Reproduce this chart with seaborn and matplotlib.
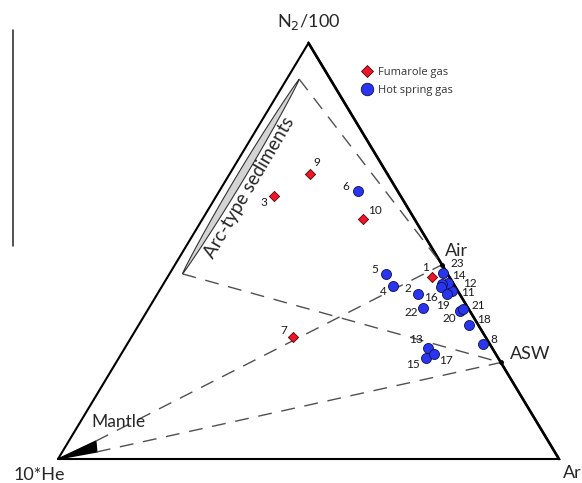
import numpy as np
import pandas as pd
import seaborn as sns
import matplotlib.pyplot as plt
from matplotlib.lines import Line2D

# compositions in % of (10*He, N2/100, Ar)
fum_id = [1, 3, 7, 9, 10]
fum_he = [3.5, 25.3, 38.4, 15.4, 10.3]
fum_n2 = [43.8, 63.2, 29.3, 68.5, 57.7]
fum_ar = [52.7, 11.5, 32.3, 16.1, 32.0]

hot_id = [2, 4, 5, 6, 8, 11, 12, 13, 14, 15, 16, 17, 18, 19, 20, 21, 22, 23]
hot_he = [8.3, 12.3, 12.3, 7.9, 1.4, 1.2, 1.0, 12.8, 2.3, 14.4, 2.9, 12.4, 1.9, 2.5, 2.0, 1.1, 9.0, 0.8]
hot_n2 = [39.7, 41.6, 44.5, 64.4, 27.6, 40.4, 42.3, 26.7, 42.1, 24.3, 41.3, 25.2, 32.2, 39.7, 35.6, 36.1, 36.3, 44.7]
hot_ar = [52.0, 46.1, 43.2, 27.7, 71.0, 58.4, 56.7, 60.5, 55.6, 61.3, 55.8, 62.4, 65.9, 57.8, 62.4, 62.8, 54.7, 54.5]

# end members (He, N2, Ar)
air = (0.0, 46.7, 53.3)
asw = (0.0, 23.2, 76.8)
sed_low = (52.9, 44.5, 2.6)
sed_top = (6.2, 91.3, 2.5)
mantle_a = (90.3, 4.3, 5.4)
mantle_b = (91.4, 1.7, 6.9)

# label offsets in pixels
lab_off = {1: (-6, 9), 3: (-10, -6), 7: (-9, 7), 9: (7, 12), 10: (12, 8),
           2: (-10, 5), 4: (-10, -6), 5: (-11, 4), 6: (-12, 5), 8: (11, 5),
           11: (16, -2), 12: (22, 0), 13: (-12, 8), 14: (17, 8), 15: (-13, -7),
           16: (-10, -10), 17: (12, -6), 18: (15, 6), 19: (-4, -12), 20: (-10, -8),
           21: (15, 3), 22: (-12, -5), 23: (14, 10)}


def tern(he, n2, ar):
    he, n2, ar = np.asarray(he, float), np.asarray(n2, float), np.asarray(ar, float)
    tot = he + n2 + ar
    return ar / tot + 0.5 * n2 / tot, n2 / tot


fx, fy = tern(fum_he, fum_n2, fum_ar)
hx, hy = tern(hot_he, hot_n2, hot_ar)
df = pd.concat([
    pd.DataFrame({'id': fum_id, 'x': fx, 'y': fy, 'kind': 'Fumarole gas'}),
    pd.DataFrame({'id': hot_id, 'x': hx, 'y': hy, 'kind': 'Hot spring gas'}),
])

sns.set_style('white')
plt.rcParams['font.family'] = ['Lato', 'DejaVu Sans']

fig = plt.figure(figsize=(5.82, 4.83), dpi=100)
ax = fig.add_axes([0, 0, 1, 1])
ax.set_xlim(-58 / 501, 524 / 501)
ax.set_ylim(-24 / 416, 459 / 416)
ax.axis('off')

red = '#f01428'
blue = '#2a35f0'

# triangle
ax.plot([0, 1, 0.5, 0], [0, 0, 1, 0], color='black', lw=1.5, solid_joinstyle='miter')
ax.plot([0.5, 1], [1, 0], color='black', lw=1.9)

# mixing lines
dash = dict(color='#505050', lw=1.0, dashes=(10, 7))
for a, b in [(sed_top, air), (sed_low, asw), (mantle_a, air), (mantle_b, asw)]:
    lx, ly = tern([a[0], b[0]], [a[1], b[1]], [a[2], b[2]])
    ax.plot(lx, ly, **dash)

# sediment lens
t = np.linspace(0, 1, 80)
w = 0.9 * np.sin(np.pi * t) ** 0.7
he_line = sed_low[0] + (sed_top[0] - sed_low[0]) * t
n2_line = sed_low[1] + (sed_top[1] - sed_low[1]) * t
ar_line = sed_low[2] + (sed_top[2] - sed_low[2]) * t
ax1, ay1 = tern(he_line + w, n2_line, ar_line - w)
ax2, ay2 = tern(he_line - w, n2_line, ar_line + w)
ax.fill(np.r_[ax1, ax2[::-1]], np.r_[ay1, ay2[::-1]], facecolor='#d4d4d4',
        edgecolor='#333333', lw=0.8)

# mantle wedge
mx, my = tern([100, mantle_a[0], mantle_b[0]], [0, mantle_a[1], mantle_b[1]],
              [0, mantle_a[2], mantle_b[2]])
ax.fill(mx, my, color='black')

# air / asw points
ex, ey = tern([air[0], asw[0]], [air[1], asw[1]], [air[2], asw[2]])
ax.plot(ex, ey, 'o', color='black', ms=2.5)

sns.scatterplot(data=df[df.kind == 'Hot spring gas'], x='x', y='y', marker='o', s=52,
                color=blue, edgecolor='#10104a', linewidth=0.6, ax=ax, legend=False, zorder=4)
sns.scatterplot(data=df[df.kind == 'Fumarole gas'], x='x', y='y', marker='D', s=27,
                color=red, edgecolor='#4a0a0a', linewidth=0.6, ax=ax, legend=False, zorder=5)

for _, r in df.iterrows():
    dx, dy = lab_off[r['id']]
    ax.annotate(str(r['id']), (r['x'], r['y']), xytext=(dx, dy), textcoords='offset pixels',
                ha='center', va='center', fontsize=8.5, color='#1a1a1a')

# vertex / end-member labels
ax.annotate('N$_2$/100', (0.5, 1), xytext=(0, 21), textcoords='offset pixels',
            ha='center', va='center', fontsize=13)
ax.annotate('10*He', (0, 0), xytext=(-19, -16), textcoords='offset pixels',
            ha='center', va='center', fontsize=13)
ax.annotate('Ar', (1, 0), xytext=(13, -14), textcoords='offset pixels',
            ha='center', va='center', fontsize=13)
ax.annotate('Air', (ex[0], ey[0]), xytext=(14, 14), textcoords='offset pixels',
            ha='center', va='center', fontsize=13)
ax.annotate('ASW', (ex[1], ey[1]), xytext=(29, 8), textcoords='offset pixels',
            ha='center', va='center', fontsize=13)
ax.annotate('Mantle', (0, 0), xytext=(60, 37), textcoords='offset pixels',
            ha='center', va='center', fontsize=12.5)
sx, sy = tern([32.5], [65.5], [2.6])
ax.annotate('Arc-type sediments', (sx[0], sy[0]), xytext=(15, 1), textcoords='offset pixels',
            ha='center', va='center', fontsize=13.5, rotation=59.5, rotation_mode='anchor')

# stray frame line at the left
ax.plot([13.3 / 582, 13.3 / 582], [1 - 246 / 483, 1 - 30 / 483], color='#222222', lw=1.1,
        transform=ax.transAxes)

handles = [
    Line2D([], [], ls='none', marker='D', ms=6.5, mfc=red, mec='#4a0a0a', mew=0.6,
           label='Fumarole gas'),
    Line2D([], [], ls='none', marker='o', ms=9, mfc=blue, mec='#10104a', mew=0.6,
           label='Hot spring gas'),
]
leg = ax.legend(handles=handles, loc='upper left', bbox_to_anchor=(361 / 582, 1 - 67 / 483),
                frameon=False, fontsize=8, handlelength=1.0, handletextpad=0.55,
                labelspacing=0.6, borderpad=0, borderaxespad=0)
for txt in leg.get_texts():
    txt.set_family(['Open Sans', 'DejaVu Sans'])
    txt.set_color('#333333')

fig.savefig('out.png', dpi=100)
